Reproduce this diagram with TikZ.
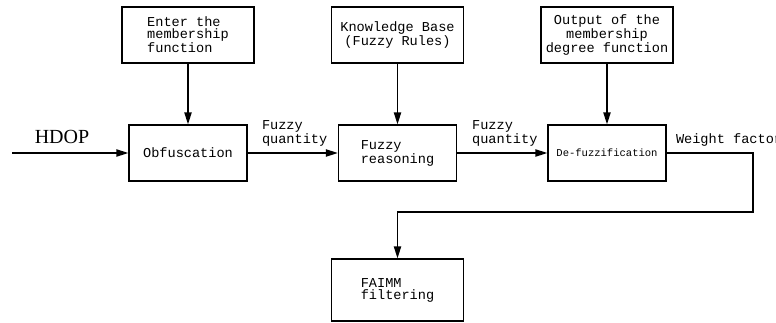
\documentclass[tikz,border=0pt]{standalone}
\usepackage{fontspec}
\setmainfont{Liberation Serif}
\setmonofont{Liberation Mono}
\usetikzlibrary{arrows.meta}

\begin{document}
\begin{tikzpicture}[x=0.75pt,y=-0.75pt,
		topbox/.style={draw,line width=1.1pt,minimum width=99pt,minimum height=42pt,inner sep=0pt,font=\ttfamily\fontsize{10.2}{9}\selectfont},
		midbox/.style={topbox,minimum width=88.5pt},
		flow/.style={line width=1.1pt,-{Triangle[length=9pt,width=5.5pt]}},
		lbl/.style={font=\ttfamily\fontsize{10.2}{9}\selectfont,inner sep=0pt,align=left}]
	%%%%% START %%%%%
	\useasboundingbox (0,0) rectangle (776,322);
	
	% input boxes on top
	\node[topbox,align=left] (enter) at (188,35) {Enter the\\membership\\function};
	\node[topbox,align=center] (kb) at (397.5,35) {Knowledge Base\\(Fuzzy Rules)};
	\node[topbox,align=center] (outp) at (607,35) {Output of the\\membership\\degree function};
	
	% main chain
	\node[midbox] (obf) at (188,153) {Obfuscation};
	\node[midbox,align=left] (reason) at (397.5,153) {Fuzzy\\reasoning};
	\node[midbox,font=\ttfamily\fontsize{7.9}{8}\selectfont] (defuzz) at (607,153) {De-fuzzification};
	\node[topbox,minimum height=46.5pt,align=left] (faimm) at (397.5,290) {FAIMM\\filtering};
	
	\node[font=\fontsize{15}{18}\selectfont,inner sep=0pt] (hdop) at (62,137) {HDOP};
	\coordinate (in) at (12,153);
	\coordinate (turn) at (753,212);
	
	\draw[flow] (in) -- (obf.west);
	\draw[flow] (enter) -- (obf);
	\draw[flow] (kb) -- (reason);
	\draw[flow] (outp) -- (defuzz);
	\draw[flow] (obf) -- (reason);
	\draw[flow] (reason) -- (defuzz);
	\draw[flow] (defuzz.east) -| (turn) -| (faimm.north);
	
	\node[lbl,anchor=south west] (fq1) at ([xshift=10.5pt,yshift=4.5pt]obf.east) {Fuzzy\\quantity};
	\node[lbl,anchor=south west] (fq2) at ([xshift=11pt,yshift=4.5pt]reason.east) {Fuzzy\\quantity};
	\node[lbl,anchor=south west] (wf) at ([xshift=6.75pt,yshift=5pt]defuzz.east) {Weight factor};
	%%%%% END %%%%%
\end{tikzpicture}
\end{document}
